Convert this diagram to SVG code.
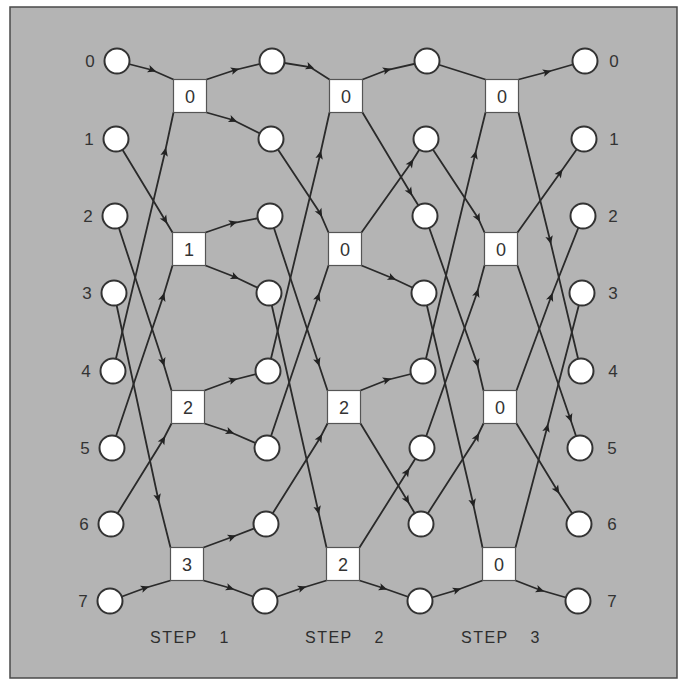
<svg xmlns="http://www.w3.org/2000/svg" width="680" height="687" viewBox="0 0 680 687">
<defs>
<marker id="ah" markerUnits="userSpaceOnUse" markerWidth="12" markerHeight="12" refX="0" refY="0" viewBox="-6 -6 12 12" orient="auto">
<path d="M-4,-3.8 L4.5,0 L-4,3.8 L-2,0 Z" fill="#222222"/>
</marker>
</defs>
<style>
.e{fill:none;stroke:#2a2a2a;stroke-width:1.8;marker-mid:url(#ah)}
.n{fill:none;stroke:#2a2a2a;stroke-width:1.8}
.c{fill:#ffffff;stroke:#333333;stroke-width:2}
.b{fill:#ffffff;stroke:#555555;stroke-width:1.2}
.bt{font-family:"Liberation Sans",Arial,sans-serif;font-size:18px;fill:#333333;text-anchor:middle}
.lt{font-family:"Liberation Sans",Arial,sans-serif;font-size:17px;fill:#333333;text-anchor:middle}
.st{font-family:"Liberation Sans",Arial,sans-serif;font-size:16px;fill:#2e2e2e;letter-spacing:1.5px;word-spacing:16px}
</style>
<rect x="0" y="0" width="680" height="687" fill="#ffffff"/>
<rect id="frame" x="10" y="7" width="667" height="671" fill="#b4b4b4" stroke="#4a4a4a" stroke-width="1.5"/>
<g id="connectors">
<!-- step 1 inputs -->
<path class="e" d="M117,61 L152,70 L173.5,79.5"/>
<path class="e" d="M113,371 L165,152 L173.5,112.5"/>
<path class="e" d="M116,139 L165,220 L172.5,232.5"/>
<path class="e" d="M112,448 L163,297 L172.5,265.5"/>
<path class="e" d="M115,216 L163,362 L171.5,390.5"/>
<path class="e" d="M111,524 L163,440 L171.5,423.5"/>
<path class="e" d="M114,293 L158,498 L170.5,547.5"/>
<path class="e" d="M110,601 L145,588 L170.5,580.5"/>
<!-- step 1 outputs -->
<path class="e" d="M206.5,79.5 L235,70 L272,61"/>
<path class="e" d="M206.5,112.5 L233,120 L271,139"/>
<path class="e" d="M205.5,232.5 L233,223 L270,216"/>
<path class="e" d="M205.5,265.5 L235,277 L269,293"/>
<path class="e" d="M204.5,390.5 L233,380 L268,371"/>
<path class="e" d="M204.5,423.5 L230,432 L267,448"/>
<path class="e" d="M203.5,547.5 L232,537 L266,524"/>
<path class="e" d="M203.5,580.5 L230,588 L265,601"/>
<!-- step 2 inputs -->
<path class="e" d="M272,61 L310,67 L329.5,79.5"/>
<path class="e" d="M268,371 L320,155 L329.5,112.5"/>
<path class="e" d="M271,139 L320,213 L328.5,232.5"/>
<path class="e" d="M267,448 L318,297 L328.5,265.5"/>
<path class="e" d="M270,216 L318,362 L327.5,390.5"/>
<path class="e" d="M266,524 L320,438 L327.5,423.5"/>
<path class="e" d="M269,293 L318,510 L326.5,547.5"/>
<path class="e" d="M265,601 L302,588 L326.5,580.5"/>
<!-- step 2 outputs -->
<path class="e" d="M362.5,79.5 L387,70 L427,61"/>
<path class="e" d="M362.5,112.5 L410,192 L425,216"/>
<path class="e" d="M361.5,232.5 L411,163 L426,139"/>
<path class="e" d="M361.5,265.5 L392,278 L424,293"/>
<path class="e" d="M360.5,390.5 L387,380 L423,371"/>
<path class="e" d="M360.5,423.5 L407,500 L421,524"/>
<path class="e" d="M359.5,547.5 L407,472 L422,448"/>
<path class="e" d="M359.5,580.5 L383,588 L420,601"/>
<!-- step 3 inputs -->
<path class="n" d="M427,61 L485.5,79.5"/>
<path class="e" d="M423,371 L475,155 L485.5,112.5"/>
<path class="e" d="M426,139 L478,218 L484.5,232.5"/>
<path class="e" d="M422,448 L477,293 L484.5,265.5"/>
<path class="e" d="M425,216 L477,363 L483.5,390.5"/>
<path class="e" d="M421,524 L477,437 L483.5,423.5"/>
<path class="e" d="M424,293 L473,503 L482.5,547.5"/>
<path class="e" d="M420,601 L457,590 L482.5,580.5"/>
<!-- step 3 outputs -->
<path class="e" d="M518.5,79.5 L547,72 L585,61"/>
<path class="e" d="M518.5,112.5 L550,240 L581,371"/>
<path class="e" d="M517.5,232.5 L560,173 L584,139"/>
<path class="e" d="M517.5,265.5 L570,418 L580,448"/>
<path class="e" d="M516.5,390.5 L551,297 L583,216"/>
<path class="e" d="M516.5,423.5 L557,490 L579,524"/>
<path class="e" d="M515.5,547.5 L547,428 L582,293"/>
<path class="e" d="M515.5,580.5 L540,590 L578,601"/>
</g>
<g id="col0">
<circle class="c" cx="117" cy="61" r="12.5"/><circle class="c" cx="116" cy="139" r="12.5"/>
<circle class="c" cx="115" cy="216" r="12.5"/><circle class="c" cx="114" cy="293" r="12.5"/>
<circle class="c" cx="113" cy="371" r="12.5"/><circle class="c" cx="112" cy="448" r="12.5"/>
<circle class="c" cx="111" cy="524" r="12.5"/><circle class="c" cx="110" cy="601" r="12.5"/>
</g>
<g id="col1">
<circle class="c" cx="272" cy="61" r="12.5"/><circle class="c" cx="271" cy="139" r="12.5"/>
<circle class="c" cx="270" cy="216" r="12.5"/><circle class="c" cx="269" cy="293" r="12.5"/>
<circle class="c" cx="268" cy="371" r="12.5"/><circle class="c" cx="267" cy="448" r="12.5"/>
<circle class="c" cx="266" cy="524" r="12.5"/><circle class="c" cx="265" cy="601" r="12.5"/>
</g>
<g id="col2">
<circle class="c" cx="427" cy="61" r="12.5"/><circle class="c" cx="426" cy="139" r="12.5"/>
<circle class="c" cx="425" cy="216" r="12.5"/><circle class="c" cx="424" cy="293" r="12.5"/>
<circle class="c" cx="423" cy="371" r="12.5"/><circle class="c" cx="422" cy="448" r="12.5"/>
<circle class="c" cx="421" cy="524" r="12.5"/><circle class="c" cx="420" cy="601" r="12.5"/>
</g>
<g id="col3">
<circle class="c" cx="585" cy="61" r="12.5"/><circle class="c" cx="584" cy="139" r="12.5"/>
<circle class="c" cx="583" cy="216" r="12.5"/><circle class="c" cx="582" cy="293" r="12.5"/>
<circle class="c" cx="581" cy="371" r="12.5"/><circle class="c" cx="580" cy="448" r="12.5"/>
<circle class="c" cx="579" cy="524" r="12.5"/><circle class="c" cx="578" cy="601" r="12.5"/>
</g>
<g id="step1">
<rect class="b" x="173.5" y="79.5" width="33" height="33"/><text class="bt" x="190" y="102.5">0</text>
<rect class="b" x="172.5" y="232.5" width="33" height="33"/><text class="bt" x="189" y="255.5">1</text>
<rect class="b" x="171.5" y="390.5" width="33" height="33"/><text class="bt" x="188" y="413.5">2</text>
<rect class="b" x="170.5" y="547.5" width="33" height="33"/><text class="bt" x="187" y="570.5">3</text>
</g>
<g id="step2">
<rect class="b" x="329.5" y="79.5" width="33" height="33"/><text class="bt" x="346" y="102.5">0</text>
<rect class="b" x="328.5" y="232.5" width="33" height="33"/><text class="bt" x="345" y="255.5">0</text>
<rect class="b" x="327.5" y="390.5" width="33" height="33"/><text class="bt" x="344" y="413.5">2</text>
<rect class="b" x="326.5" y="547.5" width="33" height="33"/><text class="bt" x="343" y="570.5">2</text>
</g>
<g id="step3">
<rect class="b" x="485.5" y="79.5" width="33" height="33"/><text class="bt" x="502" y="102.5">0</text>
<rect class="b" x="484.5" y="232.5" width="33" height="33"/><text class="bt" x="501" y="255.5">0</text>
<rect class="b" x="483.5" y="390.5" width="33" height="33"/><text class="bt" x="500" y="413.5">0</text>
<rect class="b" x="482.5" y="547.5" width="33" height="33"/><text class="bt" x="499" y="570.5">0</text>
</g>
<g id="labels-left">
<text class="lt" x="90" y="67">0</text><text class="lt" x="89" y="145">1</text>
<text class="lt" x="88" y="222">2</text><text class="lt" x="87" y="299">3</text>
<text class="lt" x="86" y="377">4</text><text class="lt" x="85" y="454">5</text>
<text class="lt" x="84" y="530">6</text><text class="lt" x="83" y="607">7</text>
</g>
<g id="labels-right">
<text class="lt" x="614" y="67">0</text><text class="lt" x="614" y="145">1</text>
<text class="lt" x="613" y="222">2</text><text class="lt" x="613" y="299">3</text>
<text class="lt" x="613" y="377">4</text><text class="lt" x="612" y="454">5</text>
<text class="lt" x="612" y="530">6</text><text class="lt" x="612" y="607">7</text>
</g>
<g id="steps">
<text class="st" x="150" y="643">STEP 1</text>
<text class="st" x="305" y="643">STEP 2</text>
<text class="st" x="461" y="643">STEP 3</text>
</g>
</svg>
